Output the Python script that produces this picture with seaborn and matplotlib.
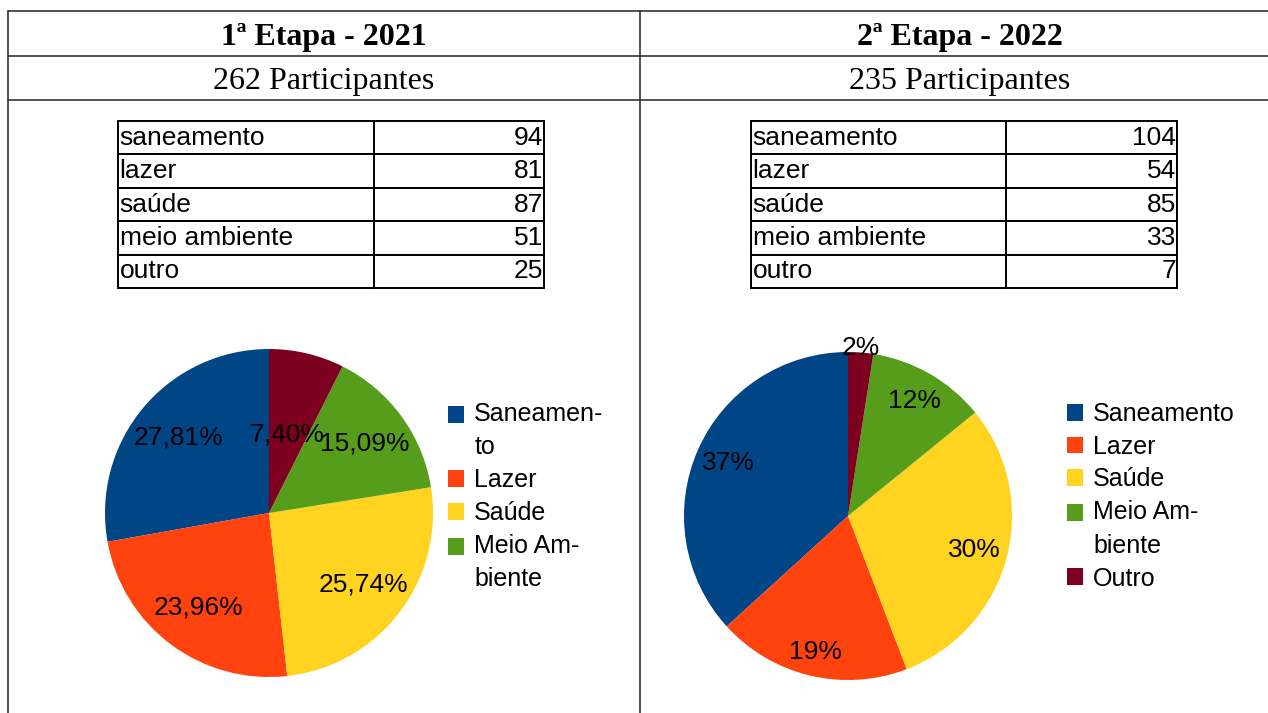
import numpy as np
import matplotlib
matplotlib.use('Agg')
import matplotlib.pyplot as plt
from matplotlib.lines import Line2D
from matplotlib.patches import Rectangle
from matplotlib.legend_handler import HandlerPatch
import seaborn as sns

# data
categories = ['saneamento', 'lazer', 'saúde', 'meio ambiente', 'outro']
legend_2021 = ['Saneamen-\nto', 'Lazer', 'Saúde', 'Meio Am-\nbiente']
legend_2022 = ['Saneamento', 'Lazer', 'Saúde', 'Meio Am-\nbiente', 'Outro']
votes_2021 = [94, 81, 87, 51, 25]
votes_2022 = [104, 54, 85, 33, 7]
titles = ['1ª Etapa - 2021', '2ª Etapa - 2022']
participants = ['262 Participantes', '235 Participantes']

sns.set_theme(style='white')
plt.rcParams['font.family'] = ['Liberation Sans', 'DejaVu Sans']
plt.rcParams['text.color'] = 'black'
colors = sns.color_palette(['#004586', '#ff420e', '#ffd320', '#579d1c', '#7e0021'])

W, H = 1268, 713
fig = plt.figure(figsize=(W / 100, H / 100), dpi=100)


def px_rect(x0, y0, x1, y1):
    # pixel box (top-left origin) -> figure fraction rect
    return [x0 / W, 1 - y1 / H, (x1 - x0) / W, (y1 - y0) / H]


# outer grid lines of the document table
line_kw = dict(color='#333333', lw=1.2, transform=fig.transFigure)
for y in [11, 56, 100]:
    fig.add_artist(Line2D([8 / W, 1], [1 - y / H, 1 - y / H], **line_kw))
for x in [8, 640]:
    fig.add_artist(Line2D([x / W, x / W], [1 - 11 / H, 0], **line_kw))

for cx, title, part in zip([324, 960], titles, participants):
    fig.text(cx / W, 1 - 38 / H, title, ha='center', va='center',
             family='Liberation Serif', weight='bold', fontsize=23)
    fig.text(cx / W, 1 - 82 / H, part, ha='center', va='center',
             family='Liberation Serif', fontsize=23)


def draw_table(rect, values, split):
    ax = fig.add_axes(rect)
    ax.axis('off')
    tab = ax.table(cellText=[[c, str(v)] for c, v in zip(categories, values)],
                   colWidths=[split, 1 - split], bbox=[0, 0, 1, 1], cellLoc='left')
    tab.auto_set_font_size(False)
    tab.set_fontsize(19)
    for (r, c), cell in tab.get_celld().items():
        cell.PAD = 0.006
        cell.set_linewidth(1.4)
        cell.set_edgecolor('black')
        cell.get_text().set_color('black')
        if c == 1:
            cell.get_text().set_horizontalalignment('right')


draw_table(px_rect(118, 121, 544, 288), votes_2021, 0.601)
draw_table(px_rect(751, 121, 1177, 288), votes_2022, 0.599)


def draw_pie(rect, values, fmt, dists):
    ax = fig.add_axes(rect)
    wedges, _, autotexts = ax.pie(values, colors=colors, startangle=90, counterclock=True,
                                  autopct=fmt, radius=1, wedgeprops=dict(linewidth=0),
                                  textprops=dict(fontsize=19, color='black'))
    for w, t, d in zip(wedges, autotexts, dists):
        ang = np.deg2rad((w.theta1 + w.theta2) / 2)
        t.set_position((d * np.cos(ang), d * np.sin(ang)))
        t.set_clip_on(False)
    ax.set_xlim(-1, 1)
    ax.set_ylim(-1, 1)
    ax.set_aspect('equal')
    ax.axis('off')
    return wedges


w1 = draw_pie(px_rect(105, 349, 433, 677), votes_2021,
              lambda p: f'{p:.2f}%'.replace('.', ','), [0.72, 0.72, 0.72, 0.72, 0.49])
w2 = draw_pie(px_rect(684, 352, 1012, 680), votes_2022,
              lambda p: f'{p:.0f}%', [0.8, 0.85, 0.8, 0.81, 1.03])


# square legend key that sits on the first line of a wrapped label
def top_square(legend, orig_handle, xdescent, ydescent, width, height, fontsize):
    return Rectangle((-xdescent, -ydescent + 0.68 * fontsize), width, height)


leg_kw = dict(loc='upper left', frameon=False, fontsize=18, borderpad=0,
              handlelength=0.65, handleheight=0.65, handletextpad=0.4,
              labelspacing=0.35, borderaxespad=0)
for handles, labels, x in [(w1[:4], legend_2021, 448), (w2, legend_2022, 1067)]:
    hmap = {h: HandlerPatch(patch_func=top_square) for h, l in zip(handles, labels) if '\n' in l}
    leg = fig.legend(handles, labels, bbox_to_anchor=(x / W, 1 - 402 / H),
                     handler_map=hmap, **leg_kw)
    for t in leg.get_texts():
        t.set_linespacing(1.5)
        t.set_color('black')

fig.savefig('out.png', dpi=100, facecolor='white')
